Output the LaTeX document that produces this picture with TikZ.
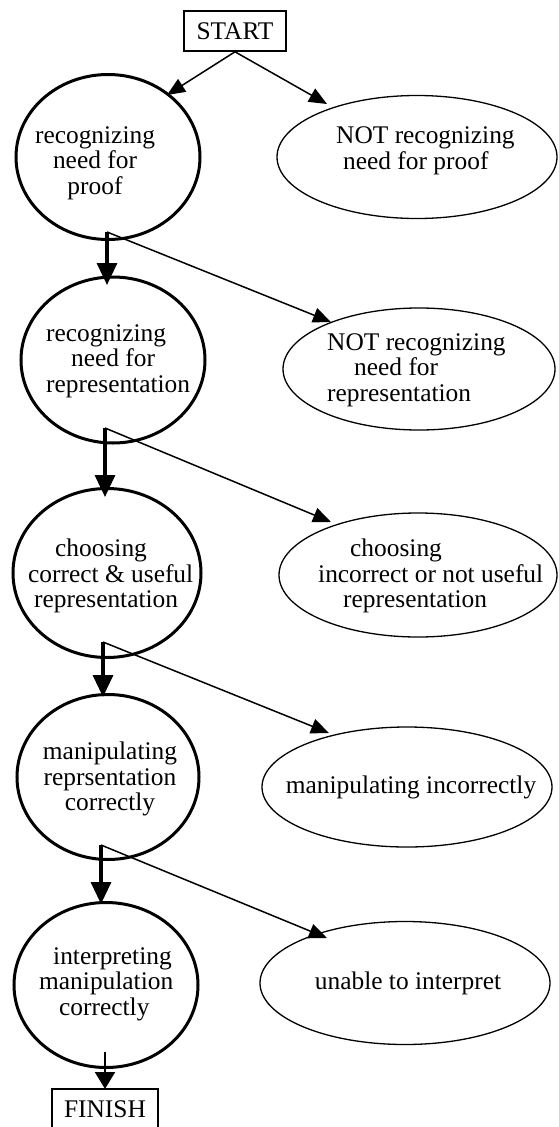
\documentclass[tikz,border=0pt]{standalone}
\usepackage{fontspec}
\setmainfont{Liberation Serif}
\usetikzlibrary{shapes.geometric,arrows.meta}
\begin{document}
\begin{tikzpicture}[x=1pt,y=-1pt,
  font=\fontsize{25.4}{25.5}\selectfont,
  circ/.style={draw, ellipse, line width=3pt, inner sep=0pt, outer sep=0pt},
  oval/.style={draw, ellipse, line width=1.3pt, inner sep=0pt, outer sep=0pt},
  lbl/.style={inner sep=0pt, align=center},
  lbll/.style={inner sep=0pt, align=left, anchor=west},
  thinarr/.style={line width=1.5pt, -{Triangle[length=18pt,width=15pt]}},
  thickarr/.style={line width=3.3pt, -{Triangle[length=22pt,width=20pt]}},
  finarr/.style={line width=2pt, -{Triangle[length=17pt,width=20pt]}},
  startbox/.style={draw, line width=1.6pt, minimum width=102pt, minimum height=40pt, inner sep=0pt},
  finbox/.style={draw, line width=2.7pt, minimum width=106pt, minimum height=40pt, inner sep=0pt}
]
\useasboundingbox (0,0) rectangle (558,1127);

% boxes
\node[startbox] (start) at (235,31) {START};
\node[finbox] (fin) at (105,1109) {FINISH};

% left circles
\node[circ, minimum width=184pt, minimum height=165pt] (c1) at (108,157) {};
\node[circ, minimum width=184pt, minimum height=166pt] (c2) at (113,360) {};
\node[circ, minimum width=188pt, minimum height=169pt] (c3) at (107,573) {};
\node[circ, minimum width=182pt, minimum height=165pt] (c4) at (108,777) {};
\node[circ, minimum width=184pt, minimum height=165pt] (c5) at (106,985) {};

% right ellipses
\node[oval, minimum width=280pt, minimum height=123pt] (e1) at (417,157) {};
\node[oval, minimum width=272pt, minimum height=122pt] (e2) at (419,369) {};
\node[oval, minimum width=278pt, minimum height=124pt] (e3) at (418,575) {};
\node[oval, minimum width=290pt, minimum height=120pt] (e4) at (407,787) {};
\node[oval, minimum width=290pt, minimum height=123pt] (e5) at (405,983) {};

% labels in circles
\node[lbl] (t1) at (95,163) {recognizing\\need for\\proof};
\node[lbll] (t2) at (46,361) {recognizing\\\hspace*{25pt}need for\\representation};
\node[lbll] (t3) at (28,576) {\hspace*{27pt}choosing\\correct \& useful\\\hspace*{6pt}representation};
\node[lbl] (t4) at (110,779) {manipulating\\reprsentation\\correctly};
\node[lbll] (t5) at (39,984) {\hspace*{14pt}interpreting\\manipulation\\\hspace*{20pt}correctly};

% labels in ellipses
\node[lbll] (u1) at (336,151) {NOT recognizing\\\hspace*{7pt}need for proof};
\node[lbll] (u2) at (327,370) {NOT recognizing\\\hspace*{27pt}need for\\representation};
\node[lbll] (u3) at (318,576) {\hspace*{32pt}choosing\\incorrect or not useful\\\hspace*{25pt}representation};
\node[lbl] (u4) at (411,787) {manipulating incorrectly};
\node[lbl] (u5) at (408,983) {unable to interpret};

% connector end points
\coordinate (a1) at (167,95);
\coordinate (a2) at (327,104);
\coordinate (s1) at (107,232);
\coordinate (v1) at (107,285);
\coordinate (d1) at (331,322);
\coordinate (s2) at (105,428);
\coordinate (v2) at (105,497);
\coordinate (d2) at (331,522);
\coordinate (s3) at (103,642);
\coordinate (v3) at (103,697);
\coordinate (d3) at (329,733);
\coordinate (s4) at (101,845);
\coordinate (v4) at (101,904);
\coordinate (d4) at (327,938);
\coordinate (s5) at (105,1052);
\coordinate (v5) at (105,1089);

% connectors
\draw[thinarr] (start.south) -- (a1);
\draw[thinarr] (start.south) -- (a2);
\draw[thinarr] (s1) -- (d1);
\draw[thinarr] (s2) -- (d2);
\draw[thinarr] (s3) -- (d3);
\draw[thinarr] (s4) -- (d4);
\draw[thickarr] (s1) -- (v1);
\draw[thickarr] (s2) -- (v2);
\draw[thickarr] (s3) -- (v3);
\draw[thickarr] (s4) -- (v4);
\draw[finarr] (s5) -- (v5);
\end{tikzpicture}
\end{document}
